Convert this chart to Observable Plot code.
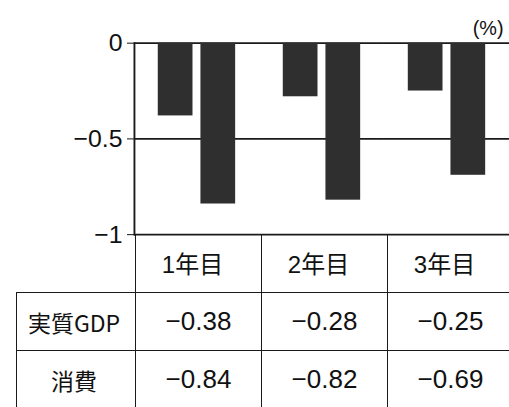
<!DOCTYPE html>
<html><head><meta charset="utf-8">
<script src="https://cdn.jsdelivr.net/npm/d3@7"></script>
<script src="https://cdn.jsdelivr.net/npm/@observablehq/plot@0.6"></script>
<style>
html,body{margin:0;padding:0;background:#fff;overflow:hidden;width:509px;height:407px}
#chart svg{display:block}
table{border-collapse:collapse;margin-left:16px;table-layout:fixed;width:497px;font-family:"Liberation Sans","Noto Sans CJK JP",sans-serif;color:#111}
td{padding:0;text-align:center;vertical-align:middle;border:1.8px solid #1a1a1a;height:57px}
td.lab{font-size:23px;font-family:"Noto Sans CJK JP",sans-serif;padding-right:4px}
td.num{font-size:26px}
tr.head td{border-top:none;font-size:24px;height:55px;padding-right:12px;padding-bottom:2px}
tr.head td.blank{border-left:none}
</style>
</head><body>
<div id="chart"></div>
<script>
const years = ["1年目", "2年目", "3年目"];
const seriesNames = ["実質GDP", "消費"];
const gdp = [-0.38, -0.28, -0.25];
const consumption = [-0.84, -0.82, -0.69];
const yTicks = [0, -0.5, -1];
const unitLabel = "(%)";

const seriesValues = [gdp, consumption];
const data = [];
years.forEach((yr, i) => seriesNames.forEach((s, j) => data.push({year: yr, series: s, value: seriesValues[j][i]})));

const fmtTick = d => d === 0 ? "0" : String(d).replace("-", "−");
const fmtVal = d => d.toFixed(2).replace("-", "−");

const chart = Plot.plot({
  width: 513, height: 237,
  marginLeft: 135, marginRight: 0, marginTop: 43, marginBottom: 1,
  style: {fontFamily: '"Liberation Sans", Arial, sans-serif', fontSize: "25px", color: "#111", background: "white", overflow: "visible"},
  fx: {domain: years, paddingInner: 0, paddingOuter: 0, axis: null, label: null},
  x: {domain: seriesNames, paddingInner: 0.186, paddingOuter: 0.53, axis: null},
  y: {domain: [-1, 0], ticks: yTicks, tickSize: 7, tickPadding: 5, label: null, tickFormat: fmtTick},
  marks: [
    Plot.ruleY(yTicks, {stroke: "#1a1a1a", strokeWidth: 1.9}),
    Plot.barY(data, {fx: "year", x: "series", y: "value", fill: "#2f2f2f"}),
    Plot.frame({anchor: "left", facetAnchor: "left", stroke: "#1a1a1a", strokeWidth: 1.9}),
    Plot.text([unitLabel], {frameAnchor: "top-right", facetAnchor: "right", dy: -22, dx: -6, fontSize: 20, fill: "#111"})
  ]
});
document.getElementById("chart").appendChild(chart);

// data table below the chart
const table = document.createElement("table");
const cg = document.createElement("colgroup");
[119, 126, 126, 126].forEach(w => { const c = document.createElement("col"); c.style.width = w + "px"; cg.appendChild(c); });
table.appendChild(cg);
const head = document.createElement("tr");
head.className = "head";
const blank = document.createElement("td");
blank.className = "blank";
head.appendChild(blank);
years.forEach(y => { const td = document.createElement("td"); td.textContent = y; head.appendChild(td); });
table.appendChild(head);
seriesNames.forEach((s, j) => {
  const tr = document.createElement("tr");
  const l = document.createElement("td");
  l.className = "lab"; l.textContent = s; tr.appendChild(l);
  seriesValues[j].forEach(v => { const td = document.createElement("td"); td.className = "num"; td.textContent = fmtVal(v); tr.appendChild(td); });
  table.appendChild(tr);
});
document.body.appendChild(table);
</script>
</body></html>
